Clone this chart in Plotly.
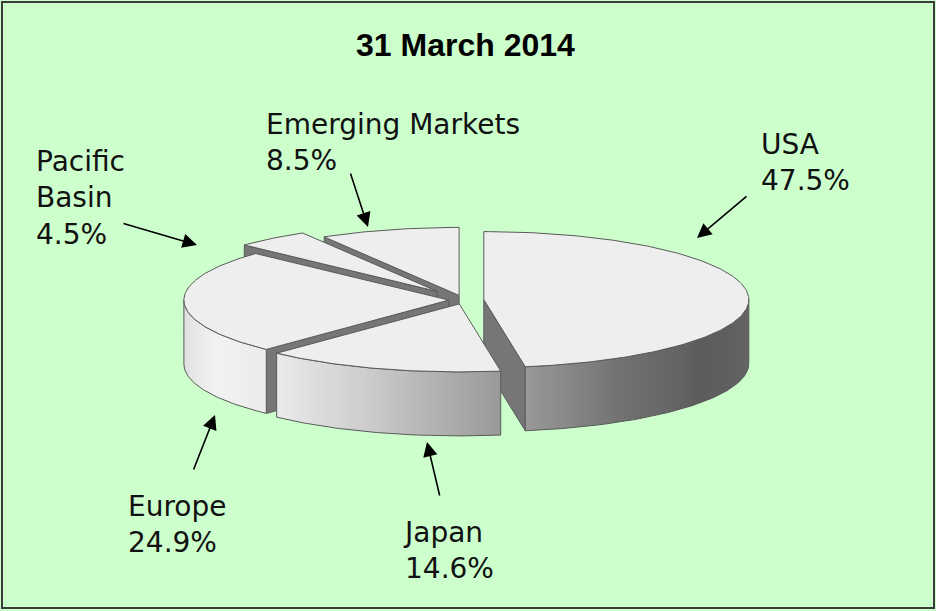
import numpy as np
import plotly.graph_objects as go

# ---------------- data ----------------
regions = ["USA", "Japan", "Europe", "Pacific Basin", "Emerging Markets"]
shares = [47.5, 14.6, 24.9, 4.5, 8.5]
label_names = ["USA", "Japan", "Europe", "Pacific<br>Basin", "Emerging Markets"]
title_text = "31 March 2014"

# ---------------- style ----------------
W, H = 936, 611
CX, CY, RX, RY, DEPTH = 464, 300, 265, 68, 64
pulls = [0.075, 0.06, 0.057, 0.16, 0.07]
label_pos = [(759, 126), (401, 514), (126, 488), (34, 143), (264, 106)]
arrow_heads = [(697, 238), (427, 442), (215, 415), (197, 245), (368, 227)]
arrow_tails = [(748, 195), (440, 497), (193, 471), (122, 223), (350, 172)]
BG = "#ccffcc"
TOP_COLOR = "#eeeeee"
FACE_COLOR = "#767676"
EDGE_COLOR = "#5a5a5a"
shade_ang = [90, 125, 150, 171, 200, 223, 240, 270]
shade_val = [0.40, 0.36, 0.45, 0.60, 0.80, 0.92, 0.95, 0.86]


def gray(v):
    g = int(round(255 * v))
    return f"rgb({g},{g},{g})"


def pt(cx, cy, th):
    r = np.radians(th)
    return cx + RX * np.sin(r), cy - RY * np.cos(r)


def arc(cx, cy, a, b):
    n = max(2, int(abs(b - a)) + 2)
    th = np.linspace(a, b, n)
    x, y = pt(cx, cy, th)
    return list(x), list(y)


fig = go.Figure()

# slice geometry
total = sum(shares)
starts, ends = [], []
acc = 0.0
for s in shares:
    starts.append(360 * acc / total)
    acc += s
    ends.append(360 * acc / total)

mids = [(a + b) / 2 for a, b in zip(starts, ends)]
order = sorted(range(len(shares)), key=lambda i: -np.cos(np.radians(mids[i])))


def poly(xs, ys, fill=None, gradient=None):
    kw = dict(x=xs + [xs[0]], y=ys + [ys[0]], mode="lines", fill="toself",
              line=dict(color=EDGE_COLOR, width=1), hoverinfo="skip",
              showlegend=False)
    if gradient is not None:
        kw["fillgradient"] = gradient
    else:
        kw["fillcolor"] = fill
    fig.add_trace(go.Scatter(**kw))


for i in order:
    a, b, m = starts[i], ends[i], mids[i]
    r = np.radians(m)
    cx = CX + pulls[i] * RX * np.sin(r)
    cy = CY - pulls[i] * RY * np.cos(r)
    # radial cut faces
    for th, normal in ((a, a - 90), (b, b + 90)):
        if np.cos(np.radians(normal - 180)) > 1e-6:
            ox, oy = pt(cx, cy, th)
            poly([cx, ox, ox, cx], [cy, oy, oy + DEPTH, cy + DEPTH], fill=FACE_COLOR)
    # outer wall (front half only)
    w0, w1 = max(a, 90), min(b, 270)
    if w1 > w0:
        tx, ty = arc(cx, cy, w0, w1)
        bx = tx[::-1]
        by = [v + DEPTH for v in ty[::-1]]
        th = np.linspace(w1, w0, 40)
        xs, _ = pt(cx, cy, th)
        xmin, xmax = float(min(xs)), float(max(xs))
        vals = np.interp(th, shade_ang, shade_val)
        cs = [[float((x - xmin) / (xmax - xmin)), gray(v)] for x, v in zip(xs, vals)]
        cs[0][0] = 0.0
        cs[-1][0] = 1.0
        poly(tx + bx, ty + by,
             gradient=dict(type="horizontal", colorscale=cs, start=xmin, stop=xmax))
    # top surface
    tx, ty = arc(cx, cy, a, b)
    poly([cx] + tx, [cy] + ty, fill=TOP_COLOR)

# labels and arrows
annotations = []
for i in range(len(regions)):
    lx, ly = label_pos[i]
    annotations.append(dict(
        x=lx, y=ly, xref="x", yref="y", xanchor="left", yanchor="top",
        text=f"{label_names[i]}<br>{shares[i]:.1f}%", showarrow=False, align="left",
        font=dict(family="DejaVu Sans", size=28, color="#111111")))
    hx, hy = arrow_heads[i]
    tx_, ty_ = arrow_tails[i]
    annotations.append(dict(
        x=hx, y=hy, ax=tx_, ay=ty_, xref="x", yref="y", axref="x", ayref="y",
        text="", showarrow=True, arrowhead=2, arrowsize=1.8, arrowwidth=1.6,
        arrowcolor="#000000", standoff=0, startstandoff=0))

annotations.append(dict(
    x=465, y=45, xref="x", yref="y", xanchor="center", yanchor="middle",
    text=f"<b>{title_text}</b>", showarrow=False,
    font=dict(family="Liberation Sans, Arial", size=32, color="#000000")))

fig.update_layout(
    width=W, height=H, margin=dict(l=0, r=0, t=0, b=0, pad=0),
    paper_bgcolor=BG, plot_bgcolor=BG,
    xaxis=dict(range=[0, W], visible=False, fixedrange=True),
    yaxis=dict(range=[H, 0], visible=False, fixedrange=True),
    annotations=annotations,
    shapes=[dict(type="rect", xref="x", yref="y", x0=2, y0=2, x1=934, y1=608,
                 line=dict(color="#3c3c3c", width=2), fillcolor="rgba(0,0,0,0)")],
)

fig.write_html("out.html", config={"displayModeBar": False},
               post_script="document.body.style.margin='0';document.body.style.overflow='hidden';")
